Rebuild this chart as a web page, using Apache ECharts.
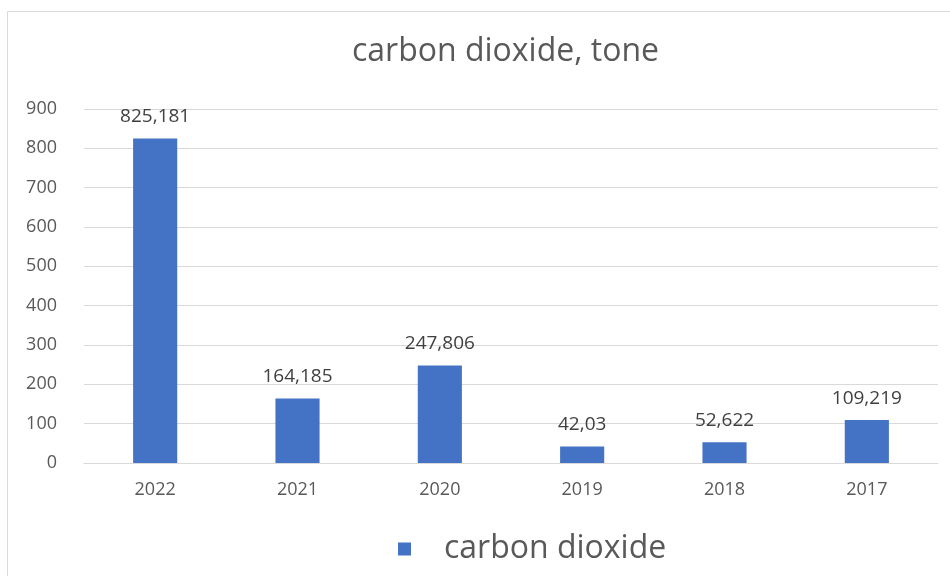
<!DOCTYPE html>
<html>
<head>
<meta charset="utf-8">
<script src="https://cdn.jsdelivr.net/npm/echarts@6/dist/echarts.min.js"></script>
<style>
  html, body { margin: 0; padding: 0; background: #fff; }
  #chart { width: 950px; height: 576px; }
</style>
</head>
<body>
<div id="chart"></div>
<script>
// Annual carbon dioxide output, tonnes
const years = ['2022', '2021', '2020', '2019', '2018', '2017'];
const co2Values = [825.181, 164.185, 247.806, 42.03, 52.622, 109.219];
const yTicks = { min: 0, max: 900, step: 100 };
const seriesName = 'carbon dioxide';
const chartTitle = 'carbon dioxide, tone';

const FONT = '"Open Sans", "Noto Sans", sans-serif';

// Comma decimal separator, as written in the labels
function fmt(v) {
  return String(v).replace('.', ',');
}

const chart = echarts.init(document.getElementById('chart'), null, { renderer: 'canvas' });

chart.setOption({
  backgroundColor: '#ffffff',
  animation: false,
  graphic: [{
    type: 'rect',
    shape: { x: 7.5, y: 11.5, width: 960, height: 600 },
    style: { fill: 'none', stroke: '#d9d9d9', lineWidth: 1 },
    silent: true,
    z: -1
  }],
  title: {
    text: chartTitle,
    left: 352,
    top: 36,
    padding: 0,
    textStyle: { fontFamily: FONT, fontSize: 32, fontWeight: 'normal', color: '#595959' }
  },
  legend: {
    bottom: 6,
    left: 393,
    itemWidth: 13,
    itemHeight: 13,
    itemGap: 10,
    icon: 'rect',
    textStyle: { fontFamily: FONT, fontSize: 32, color: '#595959', padding: [0, 0, 0, 28] },
    data: [seriesName]
  },
  grid: { left: 84, right: 12, top: 109, bottom: 113, containLabel: false },
  xAxis: {
    type: 'category',
    data: years,
    axisLine: { show: true, lineStyle: { color: '#d9d9d9' } },
    axisTick: { show: false },
    axisLabel: { fontFamily: FONT, fontSize: 18, color: '#595959', margin: 18 }
  },
  yAxis: {
    type: 'value',
    min: yTicks.min,
    max: yTicks.max,
    interval: yTicks.step,
    axisLine: { show: false },
    axisTick: { show: false },
    splitLine: { lineStyle: { color: '#d9d9d9' } },
    axisLabel: { fontFamily: FONT, fontSize: 18, color: '#595959', margin: 27 }
  },
  series: [{
    name: seriesName,
    type: 'bar',
    data: co2Values,
    barWidth: '31%',
    itemStyle: { color: '#4472c4' },
    label: {
      show: true,
      position: 'top',
      distance: 12,
      fontFamily: FONT,
      fontSize: 19,
      color: '#404040',
      formatter: p => fmt(p.value)
    }
  }]
});
</script>
</body>
</html>
